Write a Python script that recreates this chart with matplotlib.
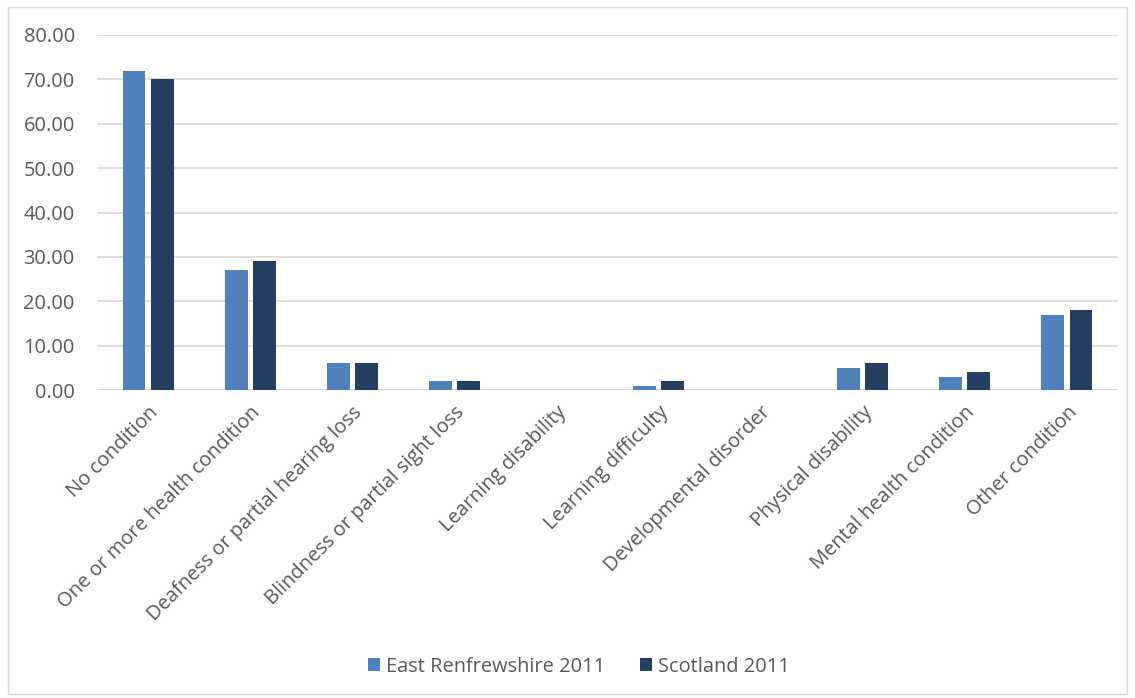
import numpy as np
import matplotlib.pyplot as plt
from matplotlib.patches import Rectangle

# Long-term health conditions, % of population
categories = ['No condition', 'One or more health condition',
              'Deafness or partial hearing loss', 'Blindness or partial sight loss',
              'Learning disability', 'Learning difficulty', 'Developmental disorder',
              'Physical disability', 'Mental health condition', 'Other condition']
east_renfrewshire = [72, 27, 6, 2, 0, 1, 0, 5, 3, 17]
scotland = [70, 29, 6, 2, 0, 2, 0, 6, 4, 18]
series_names = ['East Renfrewshire 2011', 'Scotland 2011']

plt.rcParams['font.family'] = ['Open Sans', 'DejaVu Sans']
text_col = '#595959'
fs = 14.4

fig = plt.figure(figsize=(11.35, 6.98), dpi=100)
ax = fig.add_axes([97 / 1135, 1 - 390 / 698, 1021 / 1135, 355 / 698])

x = np.arange(len(categories))
w = 0.225
ax.bar(x - 0.1375, east_renfrewshire, w, color='#4f81bd', label=series_names[0], zorder=3)
ax.bar(x + 0.1375, scotland, w, color='#243f60', label=series_names[1], zorder=3)

ax.set_xlim(-0.5, len(categories) - 0.5)
ax.set_ylim(0, 80)
ax.set_yticks(np.arange(0, 81, 10))
ax.set_yticklabels([f'{v:.2f}' for v in np.arange(0, 81, 10)])
ax.grid(axis='y', color='#d9d9d9', linewidth=1.2, zorder=0)
for s in ax.spines.values():
    s.set_visible(False)
ax.axhline(0, color='#d9d9d9', linewidth=1.2, zorder=2)

ax.set_xticks(x)
ax.set_xticklabels(categories, rotation=45, ha='right', rotation_mode='anchor')
ax.tick_params(axis='both', length=0, labelsize=fs, labelcolor=text_col)
ax.tick_params(axis='x', pad=9)
ax.tick_params(axis='y', pad=16)

fig.legend(loc='lower center', bbox_to_anchor=(0.51, 0.005), ncol=2, frameon=False,
           fontsize=fs, labelcolor=text_col, handlelength=0.6, handleheight=0.6,
           handletextpad=0.3, columnspacing=1.7)

# thin border around the whole chart
fig.patches.append(Rectangle((8 / 1135, 4 / 698), 1 - 16 / 1135, 1 - 11 / 698,
                             transform=fig.transFigure, fill=False,
                             edgecolor='#d9d9d9', linewidth=1))

fig.savefig('out.png', dpi=100)
